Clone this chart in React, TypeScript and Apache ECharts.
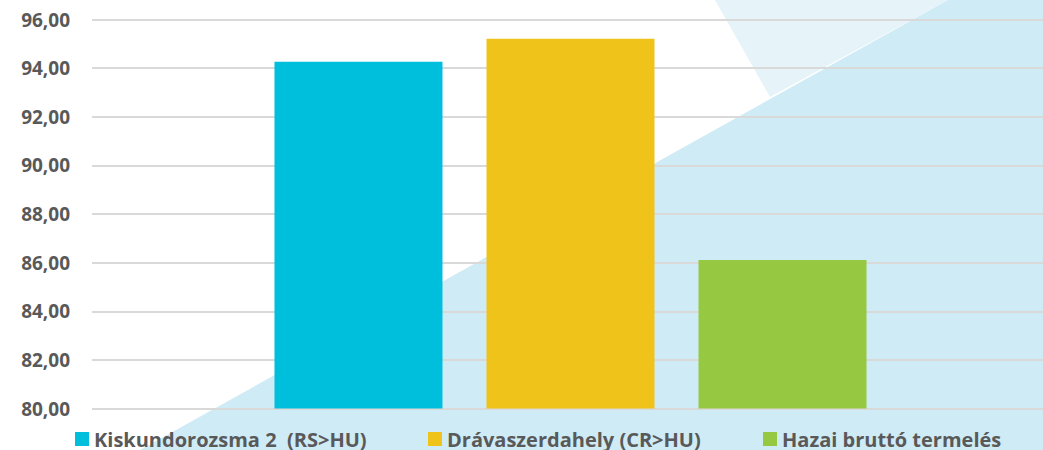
import React, { useEffect, useRef } from "react";
import * as echarts from "echarts";

const seriesNames = ["Kiskundorozsma 2  (RS>HU)", "Drávaszerdahely (CR>HU)", "Hazai bruttó termelés"];
const seriesValues = [94.26, 95.21, 86.11];
const seriesColors = ["#00bfdd", "#f0c31a", "#96c941"];
const categories = [""];
const yMin = 80;
const yMax = 96;
const yInterval = 2;

export default function App() {
  const ref = useRef<HTMLDivElement>(null);
  useEffect(() => {
    document.body.style.margin = "0";
    const chart = echarts.init(ref.current!, null, { renderer: "svg" });
    const legendLefts = [75, 428, 763];
    chart.setOption({
      animation: false,
      backgroundColor: "#ffffff",
      graphic: {
        elements: [
          {
            type: "polygon",
            z: -10,
            silent: true,
            shape: { points: [[715, 0], [948, 0], [770, 97]] },
            style: { fill: "#e6f4fa" },
          },
          {
            type: "polygon",
            z: -10,
            silent: true,
            shape: { points: [[140, 450], [948, 0], [1043, 0], [1043, 450]] },
            style: { fill: "#cfebf5" },
          },
        ],
      },
      grid: [
        { left: 92, right: 0, top: 19.5, bottom: 41.5, containLabel: false },
        { left: 98, right: 0, top: 19.5, bottom: 41.5, containLabel: false },
      ],
      xAxis: [0, 1].map((g) => ({
        type: "category",
        gridIndex: g,
        data: categories,
        axisLine: { show: false },
        axisTick: { show: false },
        axisLabel: { show: false },
      })),
      yAxis: [
        {
          type: "value",
          gridIndex: 0,
          min: yMin,
          max: yMax,
          interval: yInterval,
          axisLine: { show: false },
          axisTick: { show: false },
          splitLine: { lineStyle: { color: "#d9d9d9", width: 2 } },
          axisLabel: {
            formatter: (v: number) => v.toFixed(2).replace(".", ","),
            color: "#595959",
            fontFamily: "Open Sans",
            fontWeight: "bold",
            fontSize: 19,
            margin: 22,
          },
        },
        {
          type: "value",
          gridIndex: 1,
          min: yMin,
          max: yMax,
          interval: yInterval,
          show: false,
          splitLine: { show: false },
        },
      ],
      legend: seriesNames.map((n, i) => ({
        data: [n],
        left: legendLefts[i],
        top: 429,
        itemWidth: 14,
        itemHeight: 14,
        itemGap: 0,
        icon: "rect",
        textStyle: {
          color: "#595959",
          fontFamily: "Open Sans",
          fontWeight: "bold",
          fontSize: 20,
          lineHeight: 18,
        },
        padding: 0,
      })),
      series: seriesNames.map((n, i) => ({
        name: n,
        type: "bar",
        xAxisIndex: 1,
        yAxisIndex: 1,
        data: [seriesValues[i]],
        barWidth: 168,
        barGap: "26.2%",
        itemStyle: { color: seriesColors[i] },
      })),
    });
    return () => chart.dispose();
  }, []);
  return <div ref={ref} style={{ width: 1043, height: 450 }} />;
}
